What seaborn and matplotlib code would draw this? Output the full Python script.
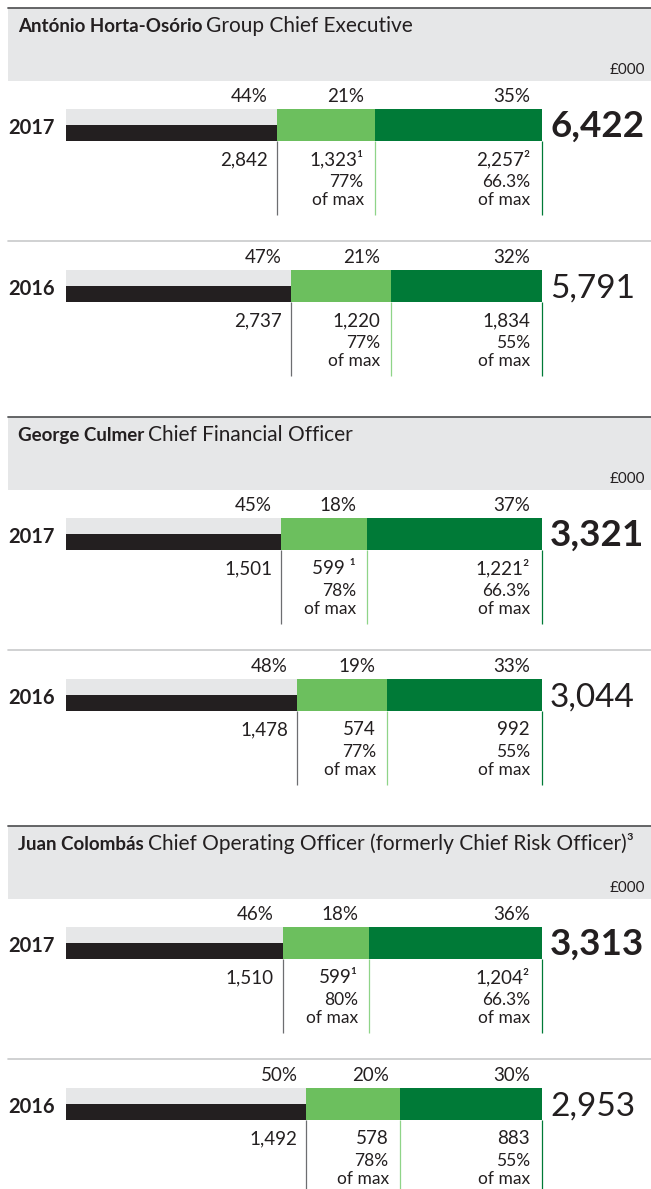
import matplotlib
matplotlib.use("Agg")
import matplotlib.pyplot as plt
import matplotlib.transforms as mtransforms
from matplotlib.patches import Rectangle
from matplotlib.lines import Line2D
import pandas as pd
import seaborn as sns

# ---- data (£000) ----
names = ["António Horta-Osório", "George Culmer", "Juan Colombás"]
roles = ["Group Chief Executive", "Chief Financial Officer",
         "Chief Operating Officer (formerly Chief Risk Officer)³"]
years = ["2017", "2016"]
fixed_pay = [[2842, 2737], [1501, 1478], [1510, 1492]]
annual_bonus = [[1323, 1220], [599, 574], [599, 578]]
ltip = [[2257, 1834], [1221, 992], [1204, 883]]
totals = [[6422, 5791], [3321, 3044], [3313, 2953]]
fixed_pct = [["44%", "47%"], ["45%", "48%"], ["46%", "50%"]]
bonus_pct = [["21%", "21%"], ["18%", "19%"], ["18%", "20%"]]
ltip_pct = [["35%", "32%"], ["37%", "33%"], ["36%", "30%"]]
bonus_of_max = [["77%", "77%"], ["78%", "77%"], ["80%", "78%"]]
ltip_of_max = [["66.3%", "55%"], ["66.3%", "55%"], ["66.3%", "55%"]]
bonus_note = [["¹", ""], [" ¹", ""], ["¹", ""]]
ltip_note = [["²", ""], ["²", ""], ["²", ""]]

# ---- style ----
sns.set_theme(style="white")
plt.rcParams["font.family"] = ["Lato", "DejaVu Sans"]

TEXT = "#231f20"
GREY_BAND = "#e6e7e8"
BLACK = "#231f20"
LIGHT_GREEN = "#6cbf5e"
DARK_GREEN = "#007a37"
palette = {"LTIP": DARK_GREEN, "Bonus": LIGHT_GREEN, "Fixed": GREY_BAND}
line_colors = ["#6d6e71", "#8fd488", DARK_GREEN]
NUM_WEIGHT = "normal"
LABEL_SIZE = 13.5

W, H = 651, 1189
fig = plt.figure(figsize=(W / 100, H / 100), dpi=100)
renderer = fig.canvas.get_renderer()


def fx(x):
    return x / W


def fy(y):
    return 1 - y / H


BAR_LEFT, BAR_WIDTH, BAR_H = 66, 476, 32
SECTION_STEP = 409

for s in range(len(names)):
    y0 = 8 + s * SECTION_STEP

    # header panel
    fig.add_artist(Rectangle((fx(8), fy(y0 + 73)), 1 - fx(8), 73 / H,
                             transform=fig.transFigure, color=GREY_BAND, lw=0))
    fig.add_artist(Line2D([fx(8), 1], [fy(y0), fy(y0)], color="#58595b", lw=1.3,
                          transform=fig.transFigure))
    t_name = fig.text(fx(18), fy(y0 + 24), names[s], fontsize=13.5,
                      fontweight="bold", color=TEXT, va="baseline", ha="left")
    bb = t_name.get_window_extent(renderer=renderer)
    fig.text(bb.x1 / W + fx(4), fy(y0 + 24), roles[s], fontsize=15,
             fontweight=NUM_WEIGHT, color=TEXT, va="baseline", ha="left")
    fig.text(fx(645), fy(y0 + 66), "£000", fontsize=11, fontweight=NUM_WEIGHT,
             color=TEXT, va="baseline", ha="right")

    for r in range(len(years)):
        band_top = y0 + 101 + r * 161
        f, b, l, tot = fixed_pay[s][r], annual_bonus[s][r], ltip[s][r], totals[s][r]
        ends = [f, f + b, f + b + l]

        ax = fig.add_axes([fx(BAR_LEFT), fy(band_top + BAR_H), BAR_WIDTH / W, BAR_H / H])
        layers = pd.DataFrame({
            "year": [years[r]] * 3,
            "end": [ends[2], ends[1], ends[0]],
            "part": ["LTIP", "Bonus", "Fixed"],
        })
        sns.barplot(data=layers, x="end", y="year", hue="part", palette=palette,
                    hue_order=["LTIP", "Bonus", "Fixed"], dodge=False, width=1,
                    saturation=1, linewidth=0, legend=False, ax=ax, orient="h")
        # fixed pay drawn in the lower half of the grey band
        ax.barh(0.25, f, height=0.5, color=BLACK, lw=0)
        ax.set_xlim(0, tot)
        ax.set_ylim(0.5, -0.5)
        ax.axis("off")

        trans = mtransforms.blended_transform_factory(ax.transData, ax.transAxes)
        pcts = [fixed_pct[s][r], bonus_pct[s][r], ltip_pct[s][r]]
        vals = [f"{f:,}", f"{b:,}{bonus_note[s][r]}", f"{l:,}{ltip_note[s][r]}"]
        subs = [None, bonus_of_max[s][r], ltip_of_max[s][r]]
        pads = [-9, -11, -12]
        for i, e in enumerate(ends):
            ax.annotate(pcts[i], xy=(e, 1), xycoords=trans, xytext=(pads[i], 7),
                        textcoords="offset pixels", ha="right", va="baseline",
                        fontsize=LABEL_SIZE, fontweight=NUM_WEIGHT, color=TEXT,
                        annotation_clip=False)
            ax.annotate(vals[i], xy=(e, 0), xycoords=trans, xytext=(pads[i], -24),
                        textcoords="offset pixels", ha="right", va="baseline",
                        fontsize=LABEL_SIZE, fontweight=NUM_WEIGHT, color=TEXT,
                        annotation_clip=False)
            if subs[i]:
                ax.annotate(subs[i], xy=(e, 0), xycoords=trans, xytext=(pads[i], -46),
                            textcoords="offset pixels", ha="right", va="baseline",
                            fontsize=LABEL_SIZE - 1, fontweight=NUM_WEIGHT, color=TEXT,
                            annotation_clip=False)
                ax.annotate("of max", xy=(e, 0), xycoords=trans, xytext=(pads[i], -64),
                            textcoords="offset pixels", ha="right", va="baseline",
                            fontsize=LABEL_SIZE - 1, fontweight=NUM_WEIGHT, color=TEXT,
                            annotation_clip=False)
            ax.plot([e, e], [0, -74 / BAR_H], transform=trans, color=line_colors[i],
                    lw=0.9, clip_on=False, solid_capstyle="butt")

        # year label and total
        fig.text(fx(8), fy(band_top + 19), years[r], fontsize=14.5, fontweight="bold",
                 color=TEXT, va="center", ha="left")
        fig.text(fx(550), fy(band_top + 28), f"{tot:,}",
                 fontsize=26.5 if r == 0 else 24,
                 fontweight="bold" if r == 0 else NUM_WEIGHT, color=TEXT,
                 va="baseline", ha="left")

    # divider between the two years
    sep = y0 + 233
    fig.add_artist(Line2D([fx(8), 1], [fy(sep), fy(sep)], color="#c8c9cb", lw=1.2,
                          transform=fig.transFigure))

fig.savefig("out.png", dpi=100)
